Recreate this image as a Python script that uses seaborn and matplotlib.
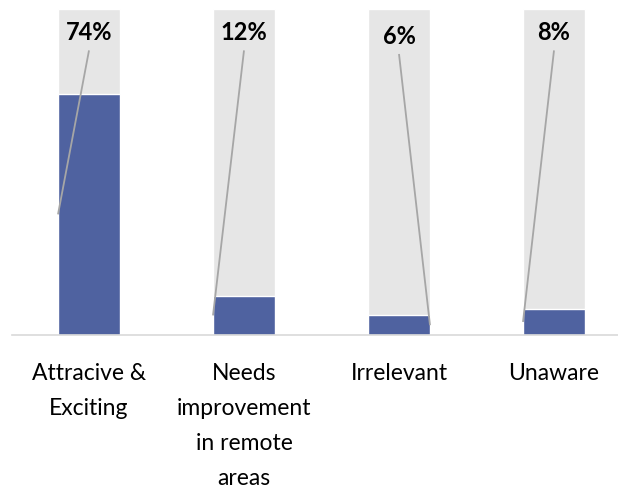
import matplotlib
matplotlib.use("Agg")
import matplotlib.pyplot as plt
import seaborn as sns
import pandas as pd

categories = ["Attracive &\nExciting", "Needs\nimprovement\nin remote\nareas", "Irrelevant", "Unaware"]
shares = [74, 12, 6, 8]
full_scale = [100, 100, 100, 100]

BLUE = "#4F62A0"
TRACK = "#E6E6E6"
LEADER = "#A6A6A6"

sns.set_theme(style="white")
plt.rcParams["font.family"] = ["Lato", "DejaVu Sans"]

df = pd.DataFrame({"category": categories, "share": shares, "full": full_scale})

fig = plt.figure(figsize=(6.18, 4.90), dpi=100)
ax = fig.add_axes([11.5 / 618, 155 / 490, 620 / 618, 326 / 490])

sns.barplot(data=df, x="category", y="full", color=TRACK, width=0.4,
            saturation=1, ax=ax, zorder=1)
sns.barplot(data=df, x="category", y="share", color=BLUE, width=0.4,
            saturation=1, ax=ax, zorder=2)

ax.set_xlim(-0.5, 3.5)
ax.set_ylim(0, 100)
ax.set_xlabel("")
ax.set_ylabel("")
ax.set_yticks([])
ax.tick_params(axis="x", length=0, pad=20, labelsize=16.5, colors="black")
for lbl in ax.get_xticklabels():
    lbl.set_linespacing(1.82)
for side in ["top", "left", "right"]:
    ax.spines[side].set_visible(False)
ax.spines["bottom"].set_color("#D9D9D9")
ax.spines["bottom"].set_linewidth(1.2)
ax.spines["bottom"].set_zorder(3)

# data labels sit at the top of each track, leader lines run to the bar middle
label_y = [92.7, 92.7, 91.7, 92.7]
line_top = [87.3, 87.3, 86.2, 87.3]
edge_side = [-1, -1, 1, -1]
for i, v in enumerate(shares):
    ax.text(i, label_y[i], f"{v}%", ha="center", va="center",
            fontsize=17, fontweight="bold", color="black", zorder=5)
    ax.plot([i, i + edge_side[i] * 0.2], [line_top[i], v / 2],
            color=LEADER, lw=1.3, zorder=4, solid_capstyle="butt")

fig.savefig("out.png", dpi=100, facecolor="white")
